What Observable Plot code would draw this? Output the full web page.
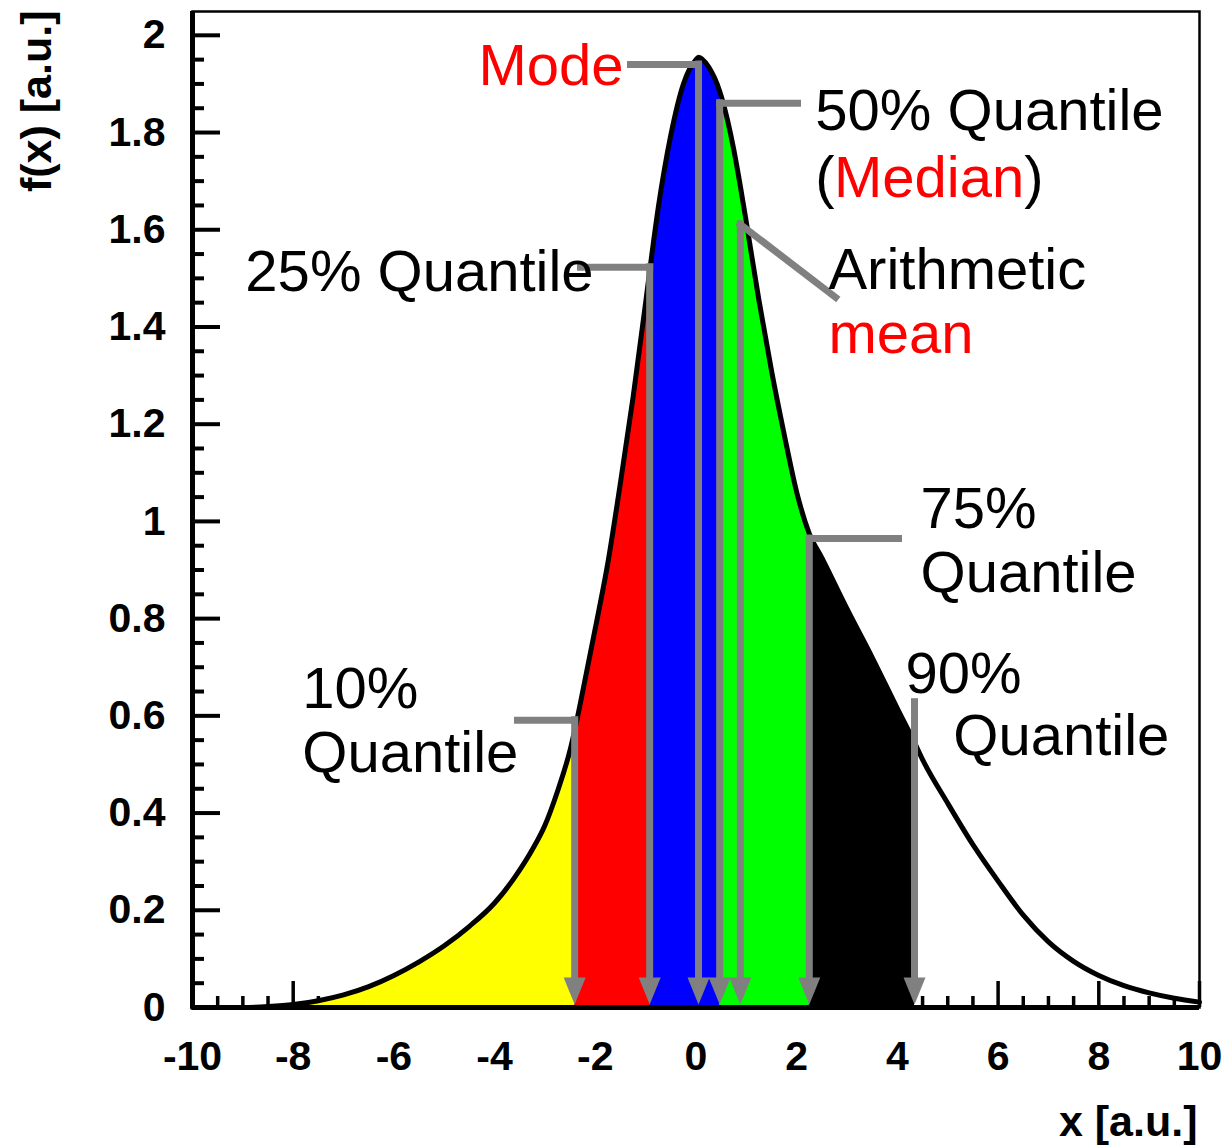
<!DOCTYPE html>
<html>
<head>
<meta charset="utf-8">
<style>
  body { margin: 0; background: #fff; }
</style>
<script src="https://cdn.jsdelivr.net/npm/d3@7"></script>
<script src="https://cdn.jsdelivr.net/npm/@observablehq/plot@0.6"></script>
</head>
<body>
<div id="chart"></div>
<script>
// Density curve f(x), sampled points (x, f(x)) including the marked positions
const curveX = [-10, -9, -8.5, -8, -7.5, -7, -6.5, -6, -5.5, -5, -4.5, -4, -3.5, -3.25, -3, -2.75, -2.5, -2.41,
  -2.25, -2, -1.75, -1.5, -1.25, -1, -0.92, -0.75, -0.5, -0.25, 0, 0.05, 0.25, 0.47, 0.5, 0.75,
  0.88, 1, 1.25, 1.5, 1.75, 2, 2.25, 2.5, 3, 3.5, 4, 4.34, 4.5, 5, 5.5, 6, 6.5, 7, 7.5, 8, 8.5,
  9, 9.5, 10];
const curveY = [0, 0, 0.002, 0.006, 0.014, 0.026, 0.043, 0.066, 0.094, 0.127, 0.167, 0.215, 0.283, 0.325,
  0.375, 0.445, 0.53, 0.57, 0.65, 0.78, 0.915, 1.08, 1.255, 1.45, 1.515, 1.645, 1.795, 1.9, 1.95, 1.955,
  1.935, 1.885, 1.875, 1.765, 1.69, 1.615, 1.455, 1.31, 1.18, 1.06, 0.975, 0.925, 0.82, 0.72, 0.615,
  0.545, 0.51, 0.42, 0.335, 0.26, 0.19, 0.135, 0.095, 0.066, 0.045, 0.03, 0.019, 0.011];

// Marked positions: arrow x, where the vertical leader starts, and where the leader begins
const markerName = ["10% Quantile", "25% Quantile", "Mode", "Median", "Mean", "75% Quantile", "90% Quantile"];
const markerX = [-2.41, -0.92, 0.05, 0.47, 0.88, 2.25, 4.34];
const markerTopY = [0.591, 1.523, 1.94, 1.86, 1.611, 0.965, 0.628];
const leaderStartX = [-3.545, -2.294, -1.301, 2.016, 2.771, 4.022, 4.34];
const leaderStartY = [0.591, 1.523, 1.94, 1.86, 1.461, 0.965, 0.628];

// Coloured bands between consecutive quantiles
const bandLo = [-10, -2.41, -0.92, 0.47, 2.25];
const bandHi = [-2.41, -0.92, 0.47, 2.25, 4.34];
const bandColor = ["#ffff00", "#ff0000", "#0000ff", "#00ff00", "#000000"];

// Annotation labels (left edge / baseline in data units)
const labelText = ["Mode", "50% Quantile", "(", "Median", ")", "25% Quantile", "Arithmetic", "mean",
  "75%", "Quantile", "90%", "Quantile", "10%", "Quantile"];
const labelX = [-4.32, 2.37, 2.37, 2.74, 6.52, -8.95, 2.63, 2.63, 4.46, 4.46, 4.16, 5.11, -7.82, -7.82];
const labelY = [1.897, 1.805, 1.667, 1.667, 1.667, 1.475, 1.479, 1.346, 0.986, 0.854, 0.648, 0.519, 0.617, 0.484];
const labelColor = ["#ff0000", "#000000", "#000000", "#ff0000", "#000000", "#000000", "#000000", "#ff0000",
  "#000000", "#000000", "#000000", "#000000", "#000000", "#000000"];

// Axis ticks and labels
const xMajorTicks = [-10, -8, -6, -4, -2, 0, 2, 4, 6, 8, 10];
const xTickLabels = ["-10", "-8", "-6", "-4", "-2", "0", "2", "4", "6", "8", "10"];
const yMajorTicks = [0, 0.2, 0.4, 0.6, 0.8, 1, 1.2, 1.4, 1.6, 1.8, 2];
const yTickLabels = ["0", "0.2", "0.4", "0.6", "0.8", "1", "1.2", "1.4", "1.6", "1.8", "2"];
const xMinorTicks = d3.range(-10, 10.001, 0.5).filter(v => Math.abs(v / 2 - Math.round(v / 2)) > 1e-6);
const yMinorTicks = d3.range(0, 2.001, 0.05).filter(v => Math.abs(v / 0.2 - Math.round(v / 0.2)) > 1e-6);

const curve = curveX.map((x, i) => ({x, y: curveY[i]}));
const bands = bandLo.flatMap((lo, b) =>
  curve.filter(d => d.x >= lo - 1e-9 && d.x <= bandHi[b] + 1e-9)
       .map(d => ({...d, band: b, color: bandColor[b]})));
const markers = markerName.map((name, i) => ({
  name, x: markerX[i], top: markerTopY[i], sx: leaderStartX[i], sy: leaderStartY[i]
}));
const labels = labelText.map((text, i) => ({text, x: labelX[i], y: labelY[i], color: labelColor[i]}));

// Filled arrowhead pointing down, tip at the anchor point
const arrowHead = {
  draw(context) {
    context.moveTo(0, 0);
    context.lineTo(-11, -27);
    context.lineTo(11, -27);
    context.closePath();
  }
};

const width = 1225, height = 1146;
const marginLeft = 192, marginRight = 26, marginTop = 11, marginBottom = 139;
const frameW = width - marginLeft - marginRight;
const frameH = height - marginTop - marginBottom;
const font = "'Liberation Sans', Arial, Helvetica, sans-serif";
const gray = "#808080";

const chart = Plot.plot({
  width, height, marginLeft, marginRight, marginTop, marginBottom,
  style: {fontFamily: font, background: "#fff", color: "#000"},
  x: {domain: [-10, 10]},
  y: {domain: [0, 2.049]},
  color: {type: "identity"},
  marks: [
    // inward ticks
    Plot.tickY(yMajorTicks, {y: d => d, insetRight: frameW - 28, stroke: "#000", strokeWidth: 4}),
    Plot.tickY(yMinorTicks, {y: d => d, insetRight: frameW - 12, stroke: "#000", strokeWidth: 4}),
    Plot.tickX(xMajorTicks, {x: d => d, insetTop: frameH - 26, stroke: "#000", strokeWidth: 3.5}),
    Plot.tickX(xMinorTicks, {x: d => d, insetTop: frameH - 11, stroke: "#000", strokeWidth: 3.5}),
    // quantile bands under the curve
    Plot.areaY(bands, {x: "x", y1: 0, y2: "y", z: "band", fill: "color", curve: "monotone-x"}),
    Plot.line(curve, {x: "x", y: "y", stroke: "#000", strokeWidth: 5, curve: "monotone-x"}),
    // leaders and arrows
    Plot.link(markers, {x1: "sx", y1: "sy", x2: "x", y2: "top", stroke: gray, strokeWidth: 7, strokeLinecap: "square"}),
    Plot.ruleX(markers, {x: "x", y1: "top", y2: 0, insetBottom: 28, stroke: gray, strokeWidth: 7, strokeLinecap: "square"}),
    Plot.dot(markers, {x: "x", y: 0, symbol: arrowHead, fill: gray, stroke: null, dy: -3}),
    // frame and axis lines
    Plot.frame({stroke: "#000", strokeWidth: 2.5}),
    Plot.ruleX([-10], {stroke: "#000", strokeWidth: 5}),
    Plot.ruleY([0], {stroke: "#000", strokeWidth: 5}),
    // tick labels
    Plot.axisX(xMajorTicks, {anchor: "bottom", tickSize: 0, tickPadding: 33, label: null,
      tickFormat: (d, i) => xTickLabels[i], fontSize: 41, fontWeight: "bold"}),
    Plot.axisY(yMajorTicks, {anchor: "left", tickSize: 0, tickPadding: 27, label: null,
      tickFormat: (d, i) => yTickLabels[i], fontSize: 41, fontWeight: "bold"}),
    // axis titles
    Plot.text(["x [a.u.]"], {frameAnchor: "bottom-right", textAnchor: "end", lineAnchor: "bottom",
      dx: -2, dy: 128, fontSize: 43, fontWeight: "bold", fill: "#000"}),
    Plot.text(["f(x) [a.u.]"], {frameAnchor: "top-left", rotate: -90, textAnchor: "end", lineAnchor: "bottom",
      dx: -142, dy: -1, fontSize: 43, fontWeight: "bold", fill: "#000"}),
    // annotations
    Plot.text(labels, {x: "x", y: "y", text: "text", fill: "color", textAnchor: "start",
      lineAnchor: "bottom", fontSize: 58})
  ]
});

document.getElementById("chart").appendChild(chart);
</script>
</body>
</html>
